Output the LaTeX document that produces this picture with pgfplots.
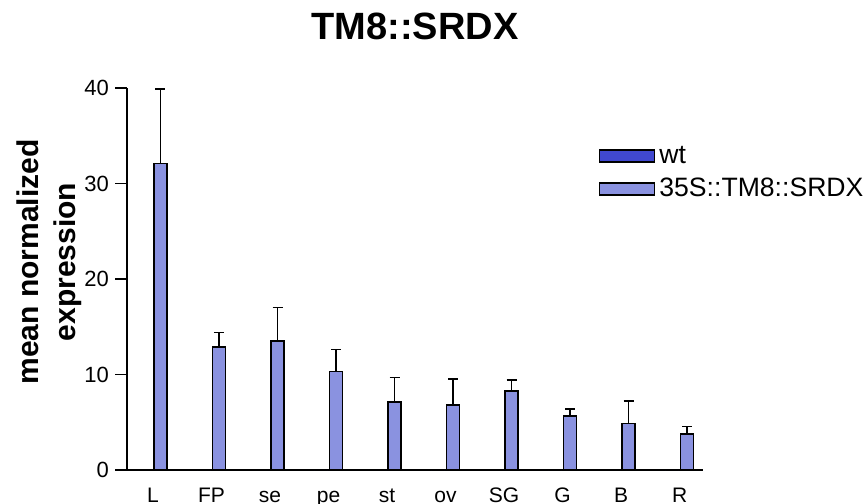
\documentclass[border=0pt]{standalone}
\usepackage{pgfplots}
\pgfplotsset{compat=1.18}
\usepackage{fontspec}
\setmainfont{Liberation Sans}

\definecolor{wtblue}{HTML}{4048D0}
\definecolor{srdxblue}{HTML}{8A92E0}

\begin{document}
\begin{tikzpicture}
\begin{axis}[
  name=ax,
  scale only axis,
  width=288pt, height=191pt,
  ybar=1pt, bar width=6.5pt,
  xmin=-0.444, xmax=9.40,
  ymin=0, ymax=40,
  axis lines=left,
  axis line style={-, line width=0.8pt},
  xtick={0,...,9},
  xticklabels={L,FP,se,pe,st,ov,SG,G,B,R},
  xtick style={draw=none},
  ytick={0,10,20,30,40},
  ytick style={line width=0.8pt, black},
  tick align=outside,
  major tick length=6pt,
  yticklabel style={xshift=0.5pt, font=\fontsize{11}{13}\selectfont},
  xticklabel style={font=\fontsize{10.5}{12}\selectfont, text height=1.6ex, text depth=0.3ex, yshift=1.5pt},
  /pgf/number format/assume math mode=true,
  title={TM8::SRDX},
  title style={font=\fontsize{19}{22}\bfseries, at={(axis description cs:0.5,1)}, anchor=base, yshift=18pt},
  ylabel={mean normalized\\expression},
  ylabel style={font=\fontsize{15}{18.5}\bfseries, align=center, at={(axis description cs:0,0.5)}, anchor=center, yshift=39pt, xshift=8.5pt},
  legend style={draw=none, fill=none, at={(0.808,0.87)}, anchor=north west,
    font=\fontsize{13.3}{15}\selectfont, row sep=2pt, cells={anchor=west}},
  legend image code/.code={\draw[#1] (-3pt,-3pt) rectangle (24.5pt,3pt);},
  error bars/y dir=plus,
  error bars/y explicit,
  error bars/error bar style={line width=0.8pt, black},
  error bars/error mark options={rotate=90, mark size=2.5pt, line width=0.8pt, black},
]
\addplot[fill=wtblue, draw=black, line width=0.8pt] coordinates {
  (0,0) (1,0) (2,0) (3,0) (4,0) (5,0) (6,0) (7,0) (8,0) (9,0)
};
\addplot[fill=srdxblue, draw=black, line width=0.8pt] coordinates {
  (0,32.1) +- (0,7.8)
  (1,12.9) +- (0,1.5)
  (2,13.5) +- (0,3.5)
  (3,10.3) +- (0,2.3)
  (4,7.1) +- (0,2.6)
  (5,6.8) +- (0,2.7)
  (6,8.3) +- (0,1.1)
  (7,5.65) +- (0,0.75)
  (8,4.85) +- (0,2.4)
  (9,3.75) +- (0,0.8)
};
\legend{wt, 35S::TM8::SRDX}
\end{axis}
\pgfresetboundingbox
\path[use as bounding box] ([shift={(-63.5pt,-16.5pt)}]ax.south west) rectangle ([shift={(82pt,44pt)}]ax.north east);
\end{tikzpicture}
\end{document}
